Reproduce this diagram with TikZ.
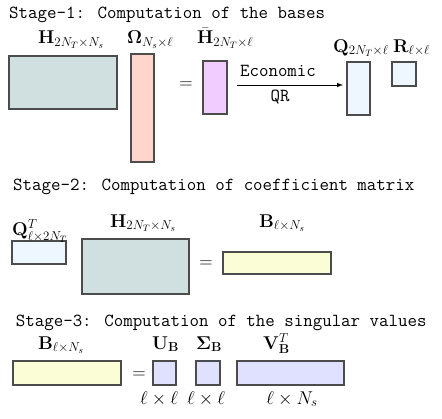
\RequirePackage{fix-cm}
\documentclass[tikz,border=0pt]{standalone}
\usepackage{amsmath}
\usetikzlibrary{arrows}

\definecolor{hcol}{HTML}{D0E0E0}
\definecolor{omcol}{HTML}{FFD5CC}
\definecolor{hbcol}{HTML}{F0CCFF}
\definecolor{qcol}{HTML}{EEF6FF}
\definecolor{bcol}{HTML}{FAFDD5}
\definecolor{ucol}{HTML}{E0E0FF}

\tikzset{
  mat/.style={draw=black!70, line width=1.1pt, inner sep=0pt, outer sep=0pt},
  ttl/.style={anchor=base west, inner sep=0pt, font=\fontsize{18.4}{22}\selectfont\ttfamily},
  lbl/.style={anchor=base west, inner sep=0pt, font=\fontsize{18.5}{22}\selectfont},
  dimlbl/.style={anchor=base, inner sep=0pt, font=\fontsize{18.5}{22}\selectfont}
}

\begin{document}
\begin{tikzpicture}[x=1pt,y=-1pt]
\useasboundingbox (0,0) rectangle (442,418);

\def \rowone {18}
\def \rowtwo {190}
\def \rowthree {326}

\node [ttl] (title1) at (9,\rowone) {Stage-1: Computation of the bases};

\node [mat, fill=hcol, minimum width=108pt, minimum height=53pt] (h1) at (63,82.5) {};
\node [mat, fill=omcol, minimum width=23pt, minimum height=108pt] (om) at (142.5,108) {};
\node [dimlbl, anchor=center] (eq1) at (186,85) {$=$};
\node [mat, fill=hbcol, minimum width=24pt, minimum height=53pt] (hb) at (215,87.5) {};
\node [mat, fill=qcol, minimum width=23pt, minimum height=53pt] (q1) at (358.5,88.5) {};
\node [mat, fill=qcol, minimum width=24pt, minimum height=24pt] (r1) at (404,74) {};

\draw [-latex, line width=1pt] ([xshift=10pt,yshift=2.5pt]hb.east) -- ([xshift=-4pt,yshift=3.5pt]q1.west);
\node [ttl, anchor=base] (econ) at (278,76) {Economic};
\node [ttl, anchor=base] (qr) at (280,101) {QR};

\node [lbl] (h1lbl) at (38,43.3) {$\mathbf{H}_{2N_T\times N_s}$};
\node [lbl] (omlbl) at (127,43.3) {$\mathbf{\Omega}_{N_s\times\ell}$};
\node [lbl] (hblbl) at (197,43.3) {$\bar{\mathbf{H}}_{2N_T\times\ell}$};
\node [lbl] (q1lbl) at (333,52) {$\mathbf{Q}_{2N_T\times\ell}$};
\node [lbl] (r1lbl) at (393,52) {$\mathbf{R}_{\ell\times\ell}$};

\node [ttl] (title2) at (13,\rowtwo) {Stage-2: Computation of coefficient matrix};

\node [mat, fill=qcol, minimum width=54pt, minimum height=23pt] (qt) at (39,252.5) {};
\node [mat, fill=hcol, minimum width=107pt, minimum height=55pt] (h2) at (135.5,266.5) {};
\node [dimlbl, anchor=center] (eq2) at (206,264) {$=$};
\node [mat, fill=bcol, minimum width=108pt, minimum height=22pt] (b2) at (277,263) {};

\node [lbl] (qtlbl) at (12,235.5) {$\mathbf{Q}^T_{\ell\times 2N_T}$};
\node [lbl] (h2lbl) at (110,227) {$\mathbf{H}_{2N_T\times N_s}$};
\node [lbl] (b2lbl) at (259,227) {$\mathbf{B}_{\ell\times N_s}$};

\node [ttl] (title3) at (15.7,\rowthree) {Stage-3: Computation of the singular values};

\node [mat, fill=bcol, minimum width=108pt, minimum height=24pt] (b3) at (67,373) {};
\node [dimlbl, anchor=center] (eq3) at (139,375) {$=$};
\node [mat, fill=ucol, minimum width=23pt, minimum height=24pt] (ub) at (164.5,373) {};
\node [mat, fill=ucol, minimum width=24pt, minimum height=24pt] (sb) at (208,373) {};
\node [mat, fill=ucol, minimum width=107pt, minimum height=24pt] (vb) at (290.5,373) {};

\node [lbl] (b3lbl) at (38,349) {$\mathbf{B}_{\ell\times N_s}$};
\node [lbl] (ublbl) at (152,349) {$\mathbf{U}_{\mathbf{B}}$};
\node [lbl] (sblbl) at (196,349) {$\mathbf{\Sigma}_{\mathbf{B}}$};
\node [lbl] (vblbl) at (263,349) {$\mathbf{V}^T_{\mathbf{B}}$};

\node [dimlbl] (ubdim) at (159,404) {$\ell\times\ell$};
\node [dimlbl] (sbdim) at (206,404) {$\ell\times\ell$};
\node [dimlbl] (vbdim) at (292,404) {$\ell\times N_s$};
\end{tikzpicture}
\end{document}
